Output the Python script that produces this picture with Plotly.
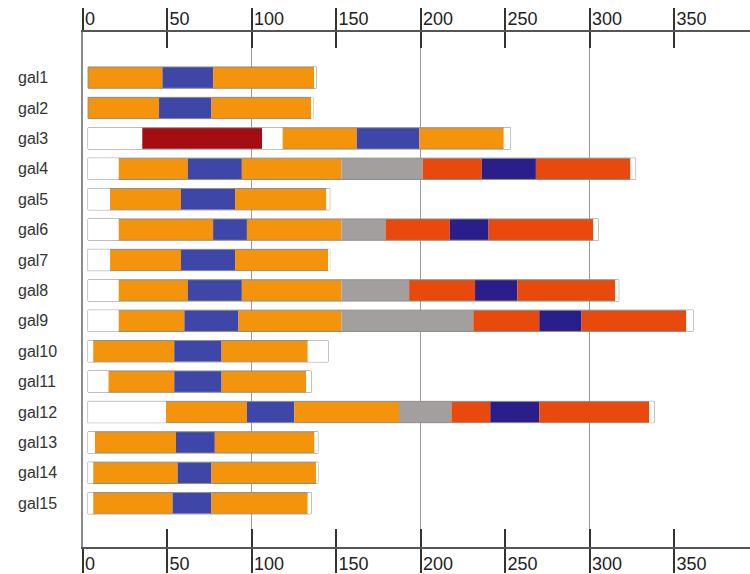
import numpy as np
import plotly.graph_objects as go

# Rows, top to bottom
galleries = ["gal1", "gal2", "gal3", "gal4", "gal5", "gal6", "gal7", "gal8",
             "gal9", "gal10", "gal11", "gal12", "gal13", "gal14", "gal15"]

# Value where every bar begins
bar_start = 3

# Segment lengths, in stacking order
lead      = [0, 0, 32, 18, 13, 18, 13, 18, 18, 3, 12, 46, 4, 3, 3]
dark_red  = [0, 0, 71, 0, 0, 0, 0, 0, 0, 0, 0, 0, 0, 0, 0]
gap       = [0, 0, 12, 0, 0, 0, 0, 0, 0, 0, 0, 0, 0, 0, 0]
orange_1  = [44, 42, 44, 41, 42, 56, 42, 41, 39, 48, 39, 48, 48, 50, 47]
blue_1    = [30, 31, 37, 32, 32, 20, 32, 32, 32, 28, 28, 28, 23, 20, 23]
orange_2  = [60, 59, 50, 59, 54, 56, 55, 59, 61, 51, 50, 62, 59, 62, 57]
grey      = [0, 0, 0, 48, 0, 26, 0, 40, 78, 0, 0, 31, 0, 0, 0]
red_1     = [0, 0, 0, 35, 0, 38, 0, 39, 39, 0, 0, 23, 0, 0, 0]
navy      = [0, 0, 0, 32, 0, 23, 0, 25, 25, 0, 0, 29, 0, 0, 0]
red_2     = [0, 0, 0, 56, 0, 62, 0, 58, 62, 0, 0, 65, 0, 0, 0]
tail      = [1, 1, 4, 3, 2, 3, 1, 2, 4, 12, 3, 3, 2, 1, 2]

tick_values = [0, 50, 100, 150, 200, 250, 300, 350]
grid_values = [100, 200, 300]

# (lengths, colour, x axis the trace is attached to)
segments = [
    (lead, "#FFFFFF", "x4"),
    (dark_red, "#A50D12", "x"),
    (gap, "#FFFFFF", "x5"),
    (orange_1, "#F4940C", "x"),
    (blue_1, "#3E46A8", "x"),
    (orange_2, "#F4940C", "x"),
    (grey, "#A39F9E", "x"),
    (red_1, "#E8490C", "x"),
    (navy, "#2A1F8A", "x"),
    (red_2, "#E8490C", "x"),
    (tail, "#FFFFFF", "x3"),
]

BAR_W = 0.70
fig = go.Figure()

base = np.full(len(galleries), float(bar_start))
for values, color, xa in segments:
    vals = np.array(values, dtype=float)
    fig.add_trace(go.Bar(
        y=galleries, x=vals, base=base.copy(), orientation="h",
        xaxis=xa, yaxis="y",
        marker=dict(color=color, line=dict(width=0)),
        width=BAR_W, showlegend=False, hoverinfo="skip",
    ))
    base = base + vals

# Thin grey frame around each whole bar
totals = base - bar_start
fig.add_trace(go.Bar(
    y=galleries, x=totals, base=[bar_start] * len(galleries), orientation="h",
    xaxis="x2", yaxis="y",
    marker=dict(color="rgba(0,0,0,0)", line=dict(color="#8C8C8C", width=1)),
    width=BAR_W, showlegend=False, hoverinfo="skip",
))

# Row labels, left aligned
for g in galleries:
    fig.add_annotation(
        x=-0.1005, xref="paper", y=g, yref="y", text=g, showarrow=False,
        xanchor="left", yanchor="middle",
        font=dict(family="Liberation Sans, Arial", size=16, color="#333333"),
    )

X_RANGE = [0, 394.7]
tick_font = dict(family="Liberation Sans, Arial", size=18, color="#222222")
TICK_C = "#333333"

fig.update_layout(
    width=750, height=574,
    margin=dict(l=83, r=0, t=32, b=23),
    paper_bgcolor="white", plot_bgcolor="white",
    barmode="overlay",
    showlegend=False,
    # vertical guide lines
    xaxis=dict(
        range=X_RANGE, tickmode="array", tickvals=grid_values, ticks="",
        showticklabels=False, showgrid=True, gridcolor="#9A9A9A", gridwidth=1,
        zeroline=False, showline=False,
    ),
    # bottom scale with labels
    xaxis2=dict(
        range=X_RANGE, overlaying="x", side="bottom", anchor="y",
        tickmode="array", tickvals=tick_values,
        ticks="outside", ticklen=24, tickwidth=2, tickcolor=TICK_C,
        ticklabelposition="outside right", ticklabelstandoff=-1,
        tickfont=tick_font, showgrid=False, zeroline=False,
        showline=True, linecolor="#555555", linewidth=2,
    ),
    # top scale with labels
    xaxis3=dict(
        range=X_RANGE, overlaying="x", side="top", anchor="y",
        tickmode="array", tickvals=tick_values,
        ticks="outside", ticklen=22, tickwidth=2, tickcolor=TICK_C,
        ticklabelposition="outside right", ticklabelstandoff=-2,
        tickfont=tick_font, showgrid=False, zeroline=False,
        showline=True, linecolor="#555555", linewidth=2,
    ),
    # top inner tick marks
    xaxis4=dict(
        range=X_RANGE, overlaying="x", side="top", anchor="y",
        tickmode="array", tickvals=tick_values,
        ticks="inside", ticklen=16, tickwidth=2, tickcolor=TICK_C,
        showticklabels=False, showgrid=False, zeroline=False, showline=False,
    ),
    # bottom inner tick marks
    xaxis5=dict(
        range=X_RANGE, overlaying="x", side="bottom", anchor="y",
        tickmode="array", tickvals=tick_values,
        ticks="inside", ticklen=18, tickwidth=2, tickcolor=TICK_C,
        showticklabels=False, showgrid=False, zeroline=False, showline=False,
    ),
    yaxis=dict(
        type="category", range=[15.44, -1.5], showticklabels=False,
        ticks="", showgrid=False, zeroline=False,
        showline=True, linecolor="#8A8A8A", linewidth=2,
    ),
)

fig.write_html("out.html")
